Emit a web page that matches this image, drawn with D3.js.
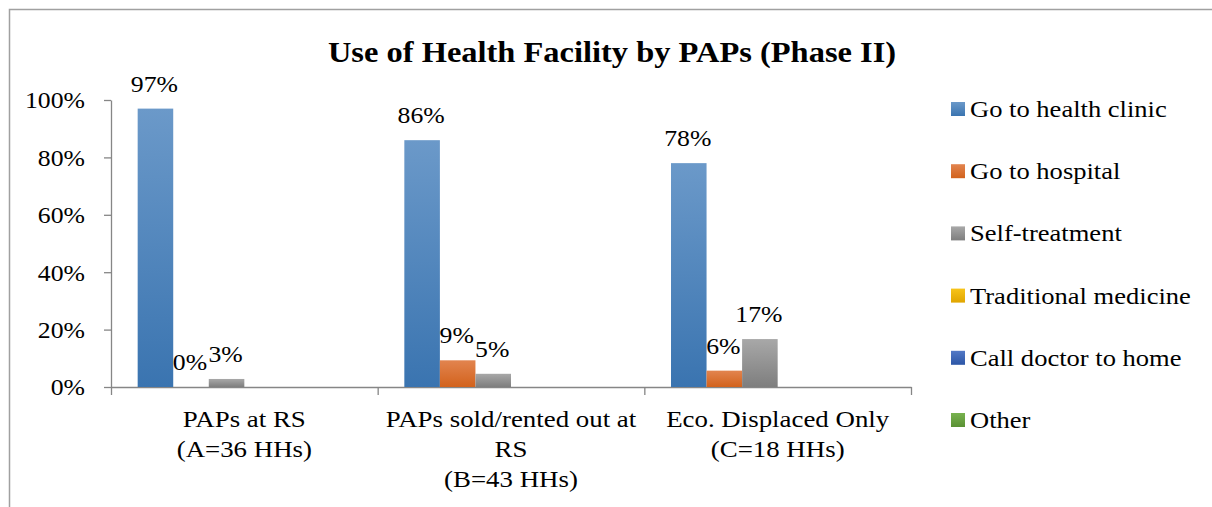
<!DOCTYPE html>
<html>
<head>
<meta charset="utf-8">
<script src="https://cdn.jsdelivr.net/npm/d3@7"></script>
<style>
  body { margin: 0; background: #fff; }
  text { font-family: "Times New Roman", "Liberation Serif", serif; fill: #000; }
</style>
</head>
<body>
<script>
// categories (lines of each axis label)
var categories = [
    ["PAPs at RS", "(A=36 HHs)"],
    ["PAPs sold/rented out at", "RS", "(B=43 HHs)"],
    ["Eco. Displaced Only", "(C=18 HHs)"]
];
var categoryKeys = ["A", "B", "C"];
var seriesNames = ["Go to health clinic", "Go to hospital", "Self-treatment",
    "Traditional medicine", "Call doctor to home", "Other"];
// values per series, one per category (null = no bar)
var healthClinic = [0.97, 0.86, 0.78];
var hospital = [0.00, 0.093, 0.057];
var selfTreatment = [0.028, 0.046, 0.167];
var traditional = [null, null, null];
var callDoctor = [null, null, null];
var other = [null, null, null];
var seriesValues = [healthClinic, hospital, selfTreatment, traditional, callDoctor, other];
var yTicks = [0, 0.2, 0.4, 0.6, 0.8, 1.0];

var colors = [
    ["#6b99c9", "#3a74b0"],
    ["#e2844f", "#d2621c"],
    ["#a8a8a8", "#7e7e7e"],
    ["#f7c41a", "#e0a500"],
    ["#5379c6", "#2c56a6"],
    ["#78b24f", "#5a9134"]
];

var w = 1212, h = 507;
var sx = 1.12; // horizontal text stretch seen in the picture
var plotLeft = 111, plotRight = 911, plotTop = 100, plotBottom = 387;

var svg = d3.select("body").append("svg")
    .attr("width", w)
    .attr("height", h);

var defs = svg.append("defs");
colors.forEach(function (c, i) {
    var g = defs.append("linearGradient")
        .attr("id", "grad" + i)
        .attr("x1", 0).attr("y1", 0).attr("x2", 0).attr("y2", 1);
    g.append("stop").attr("offset", "0%").attr("stop-color", c[0]);
    g.append("stop").attr("offset", "100%").attr("stop-color", c[1]);
});

// chart border
svg.append("rect")
    .attr("x", 9.5).attr("y", 9.5)
    .attr("width", 1300).attr("height", 600)
    .attr("fill", "none")
    .attr("stroke", "#a0a0a0")
    .attr("stroke-width", 1.5);

// title
svg.append("text")
    .attr("transform", "translate(612,62) scale(" + sx + ",1)")
    .attr("text-anchor", "middle")
    .attr("font-size", "29px")
    .attr("font-weight", "bold")
    .text("Use of Health Facility by PAPs (Phase II)");

// scales
var x0 = d3.scaleBand()
    .domain(categoryKeys)
    .range([plotLeft, plotRight])
    .paddingInner(0)
    .paddingOuter(0);
var x1 = d3.scaleBand()
    .domain(d3.range(seriesNames.length))
    .range([0, x0.bandwidth()])
    .paddingInner(0)
    .paddingOuter(0.75);
var yScale = d3.scaleLinear()
    .domain([0, 1])
    .range([plotBottom, plotTop]);

// y axis
var yAxis = d3.axisLeft(yScale)
    .tickValues(yTicks)
    .tickSize(7)
    .tickSizeOuter(0)
    .tickFormat(d3.format(".0%"));
var gy = svg.append("g")
    .attr("transform", "translate(" + plotLeft + ",0)")
    .call(yAxis);
gy.select(".domain").attr("stroke", "#868686").attr("stroke-width", 1.3);
gy.selectAll(".tick line").attr("stroke", "#868686").attr("stroke-width", 1.3);
gy.selectAll(".tick text")
    .attr("x", -26 / sx)
    .attr("transform", "scale(" + sx + ",1)")
    .attr("font-size", "23px")
    .attr("font-family", null)
    .attr("dy", "0.34em");

// x axis: boundary ticks
var xIdx = d3.scaleLinear().domain([0, categoryKeys.length]).range([plotLeft, plotRight]);
var gx = svg.append("g")
    .attr("transform", "translate(0," + plotBottom + ")")
    .call(d3.axisBottom(xIdx)
        .tickValues(d3.range(categoryKeys.length + 1))
        .tickSize(8)
        .tickSizeOuter(0)
        .tickFormat(""));
gx.select(".domain").attr("stroke", "#868686").attr("stroke-width", 1.3);
gx.selectAll(".tick line").attr("stroke", "#868686").attr("stroke-width", 1.3);

// x axis: category labels
var gxl = svg.append("g")
    .attr("transform", "translate(0," + plotBottom + ")")
    .call(d3.axisBottom(x0).tickSize(0).tickFormat(""));
gxl.select(".domain").remove();
gxl.selectAll(".tick").each(function (d, i) {
    var t = d3.select(this).select("text")
        .attr("font-size", "24px")
        .attr("font-family", null)
        .attr("text-anchor", "middle")
        .attr("dy", null)
        .attr("y", 40)
        .attr("transform", "scale(" + sx + ",1)");
    categories[i].forEach(function (line, j) {
        t.append("tspan")
            .attr("x", 0)
            .attr("y", 40 + j * 30)
            .text(line);
    });
});

// bars
var groups = svg.selectAll(".group")
    .data(categoryKeys)
    .enter()
    .append("g")
    .attr("class", "group")
    .attr("transform", function (d) { return "translate(" + x0(d) + ",0)"; });

groups.each(function (cat, ci) {
    var g = d3.select(this);
    var pts = seriesValues.map(function (vals, si) {
        return { s: si, v: vals[ci] };
    }).filter(function (p) { return p.v !== null; });

    g.selectAll("rect")
        .data(pts)
        .enter()
        .append("rect")
        .attr("x", function (p) { return x1(p.s); })
        .attr("y", function (p) { return yScale(p.v); })
        .attr("width", x1.bandwidth())
        .attr("height", function (p) { return plotBottom - yScale(p.v); })
        .attr("fill", function (p) { return "url(#grad" + p.s + ")"; });

    g.selectAll("text.lbl")
        .data(pts)
        .enter()
        .append("text")
        .attr("class", "lbl")
        .attr("text-anchor", "middle")
        .attr("font-size", "23px")
        .attr("transform", function (p) {
            return "translate(" + (x1(p.s) + x1.bandwidth() / 2 - 1) + "," + (yScale(p.v) - 17) + ") scale(" + sx + ",1)";
        })
        .text(function (p) { return Math.round(p.v * 100) + "%"; });
});

// legend
var legend = svg.selectAll(".legend")
    .data(seriesNames)
    .enter()
    .append("g")
    .attr("class", "legend")
    .attr("transform", function (d, i) { return "translate(951," + (109 + i * 62.2) + ")"; });
legend.append("rect")
    .attr("x", 0).attr("y", -7)
    .attr("width", 14).attr("height", 14)
    .attr("fill", function (d, i) { return "url(#grad" + i + ")"; });
legend.append("text")
    .attr("font-size", "23.7px")
    .attr("transform", "translate(19,8) scale(" + sx + ",1)")
    .text(function (d) { return d; });
</script>
</body>
</html>
